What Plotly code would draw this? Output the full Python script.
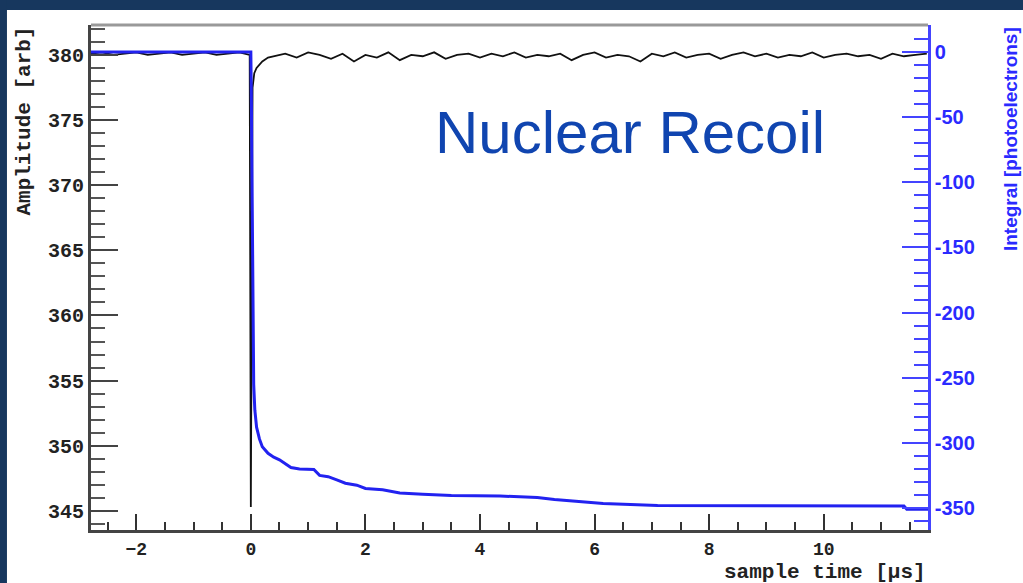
import plotly.graph_objects as go

# Amplitude trace (left axis, arb units)
amp_time = [-2.79, -2.6, -2.4, -2.2, -2.0, -1.8, -1.6, -1.4, -1.2, -1.0, -0.8, -0.6, -0.4, -0.2,
            -0.02, 0.0, 0.03, 0.06, 0.1, 0.2, 0.3,
            0.4, 0.6, 0.8, 1.0, 1.2, 1.4, 1.6, 1.8, 2.0, 2.2, 2.4, 2.6, 2.8, 3.0, 3.2, 3.4, 3.6, 3.8,
            4.0, 4.2, 4.4, 4.6, 4.8, 5.0, 5.2, 5.4, 5.6, 5.8, 6.0, 6.2, 6.4, 6.6, 6.8, 7.0, 7.2, 7.4,
            7.6, 7.8, 8.0, 8.2, 8.4, 8.6, 8.8, 9.0, 9.2, 9.4, 9.6, 9.8, 10.0, 10.2, 10.4, 10.6, 10.8,
            11.0, 11.2, 11.4, 11.6, 11.8]
amp_value = [380.1, 380.2, 380.0, 380.1, 380.2, 380.0, 380.1, 380.2, 380.0, 380.1, 380.2, 380.0, 380.1, 380.2,
             380.0, 345.3, 377.5, 378.6, 379.0, 379.5, 379.8,
             379.9, 380.1, 379.8, 380.2, 380.0, 379.7, 380.1, 379.5, 380.0, 379.8, 380.2, 379.6, 380.0, 379.9,
             380.2, 379.7, 380.0, 380.1, 379.8, 380.1, 379.9, 380.2, 379.8, 380.0, 379.9, 380.1, 379.6, 380.0,
             380.2, 379.8, 380.0, 379.9, 379.5, 380.1, 379.9, 380.2, 379.8, 380.0, 380.1, 379.7, 380.0, 380.2,
             379.9, 380.1, 379.8, 380.0, 379.9, 380.2, 379.8, 380.0, 380.1, 379.9, 380.0, 379.7, 380.1, 379.9,
             380.0, 380.1]

# Integral trace (right axis, photoelectrons)
int_time = [-2.79, 0.0, 0.01, 0.02, 0.03, 0.04, 0.05, 0.07, 0.10, 0.15, 0.20, 0.30, 0.40, 0.50, 0.60,
            0.70, 0.85, 1.10, 1.20, 1.35, 1.50, 1.65, 1.85, 2.0, 2.3, 2.6, 3.0, 3.5, 4.35, 5.0, 5.3,
            5.7, 6.15, 7.1, 11.4, 11.45, 11.82]
int_value = [0, 0, -40, -110, -180, -225, -255, -275, -288, -297, -303, -308, -311, -313, -316,
             -319, -320, -320.5, -325, -326, -328.5, -331, -332.5, -335, -336, -338.5, -339.5, -340.5,
             -340.8, -342, -343.5, -345, -346.5, -348, -348.5, -351, -351]

# right axis tick labels (plain hyphen, as in the original)
int_ticks = [0, -50, -100, -150, -200, -250, -300, -350]
int_ticklabels = ['0', '-50', '-100', '-150', '-200', '-250', '-300', '-350']

navy = '#17375e'
blue = '#2222f0'

fig = go.Figure()
fig.add_trace(go.Scatter(x=amp_time, y=amp_value, mode='lines',
                         line=dict(color='#111111', width=1.8), yaxis='y'))
fig.add_trace(go.Scatter(x=int_time, y=int_value, mode='lines',
                         line=dict(color=blue, width=3), yaxis='y2'))

fig.update_layout(
    width=1023, height=583, autosize=False,
    margin=dict(l=91, r=95, t=25, b=53),
    paper_bgcolor='white', plot_bgcolor='white',
    showlegend=False,
    xaxis=dict(range=[-2.79, 11.82], tick0=0, dtick=2, ticks='inside', ticklen=16, tickwidth=2,
               tickcolor='#333', showline=True, linecolor='#444', linewidth=3, showgrid=False,
               zeroline=False,
               minor=dict(dtick=0.5, ticks='inside', ticklen=8, tickwidth=1.5, tickcolor='#333'),
               tickfont=dict(family='Liberation Mono', size=18, color='#222', weight='bold')),
    yaxis=dict(range=[343.53, 382.3], tick0=345, dtick=5, ticks='inside', ticklen=27, tickwidth=2,
               tickcolor='#444', showline=True, linecolor='#444', linewidth=3, showgrid=False,
               zeroline=False,
               minor=dict(dtick=1, ticks='inside', ticklen=14, tickwidth=2, tickcolor='#555'),
               tickfont=dict(family='Liberation Mono', size=20, color='#222', weight='bold')),
    yaxis2=dict(range=[-366.9, 20.7], overlaying='y', side='right',
                tickmode='array', tickvals=int_ticks, ticktext=int_ticklabels,
                ticks='inside', ticklen=26, tickwidth=2, tickcolor='#4444ff', showline=True,
                linecolor='#4444ff', linewidth=2.5, showgrid=False, zeroline=False,
                minor=dict(tick0=0, dtick=10, ticks='inside', ticklen=14, tickwidth=2,
                           tickcolor='#4444ff'),
                tickfont=dict(family='Liberation Sans', size=20, color='#2a2aff', weight='bold')),
)

# navy slide border (top and left) and top frame line
fig.add_shape(type='rect', xref='paper', yref='paper', x0=-0.12, x1=1.2, y0=1.0297, y1=1.06,
              fillcolor=navy, line=dict(width=0), layer='above')
fig.add_shape(type='rect', xref='paper', yref='paper', x0=-0.12, x1=-0.1004, y0=-0.2, y1=1.06,
              fillcolor=navy, line=dict(width=0), layer='above')
fig.add_shape(type='line', xref='paper', yref='paper', x0=0, x1=1, y0=1, y1=1,
              line=dict(color='#999999', width=3))

fig.add_annotation(text='Amplitude [arb]', xref='paper', yref='paper', x=-0.080, y=1.0,
                   xanchor='center', yanchor='top', textangle=-90, showarrow=False,
                   font=dict(family='Liberation Mono', size=21, color='#222', weight='bold'))
fig.add_annotation(text='Integral [photoelectrons]', xref='paper', yref='paper', x=1.098, y=1.0,
                   xanchor='center', yanchor='top', textangle=-90, showarrow=False,
                   font=dict(family='Liberation Sans', size=19, color='#2a2aff', weight='bold'))
fig.add_annotation(text='sample time [µs]', xref='paper', yref='paper', x=1.0, y=-0.084,
                   xanchor='right', yanchor='middle', showarrow=False,
                   font=dict(family='Liberation Mono', size=21, color='#222', weight='bold'))
fig.add_annotation(text='Nuclear Recoil', xref='paper', yref='paper', x=0.4086, y=0.788,
                   xanchor='left', yanchor='middle', showarrow=False,
                   font=dict(family='Liberation Sans', size=60, color='#1045b0'))

# page body has a default 8px margin; drop it so the figure fills the window
fig.write_html('out.html', config={'displayModeBar': False},
               post_script="document.body.style.margin='0';")
